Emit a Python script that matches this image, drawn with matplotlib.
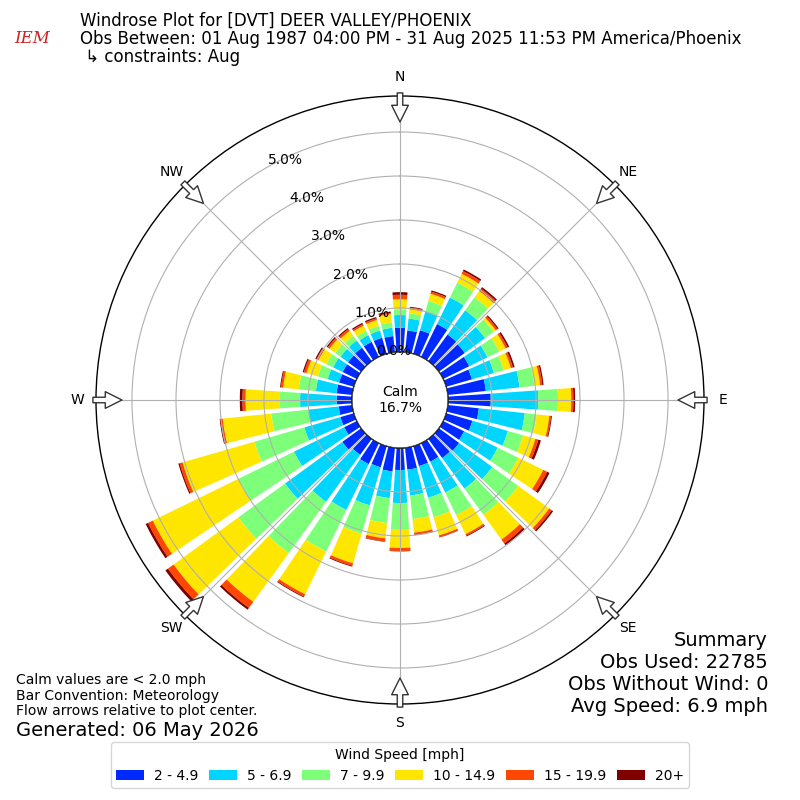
import numpy as np
import matplotlib
matplotlib.use("Agg")
import matplotlib.pyplot as plt
from matplotlib.patches import Circle

# ---------------- data ----------------
directions_deg = list(range(0, 360, 10))
speed_bins = ["2 - 4.9", "5 - 6.9", "7 - 9.9", "10 - 14.9", "15 - 19.9", "20+"]

# percent of observations per direction for each speed bin
pct_2_5 = [0.55, 0.50, 0.56, 0.83, 0.75, 0.73, 0.66, 0.61, 0.87, 0.97,
           0.71, 0.62, 0.53, 0.57, 0.54, 0.47, 0.47, 0.50, 0.50, 0.54,
           0.50, 0.53, 0.45, 0.53, 0.32, 0.32, 0.31, 0.35, 0.36, 0.35,
           0.36, 0.37, 0.38, 0.38, 0.38, 0.37]
pct_5_7 = [0.29, 0.27, 0.44, 0.67, 0.68, 0.57, 0.46, 0.52, 0.77, 1.08,
           1.05, 0.84, 0.85, 0.93, 0.86, 0.78, 0.75, 0.59, 0.75, 0.61,
           0.90, 1.16, 1.32, 1.61, 1.27, 0.85, 0.69, 0.83, 0.47, 0.27,
           0.24, 0.21, 0.20, 0.17, 0.17, 0.19]
pct_7_10 = [0.13, 0.12, 0.25, 0.38, 0.36, 0.24, 0.30, 0.23, 0.34, 0.45,
            0.27, 0.36, 0.52, 0.73, 0.73, 0.57, 0.46, 0.54, 0.61, 0.57,
            0.67, 1.05, 1.44, 1.31, 1.41, 1.18, 0.85, 0.46, 0.39, 0.23,
            0.17, 0.15, 0.13, 0.11, 0.11, 0.12]
pct_10_15 = [0.23, 0.09, 0.17, 0.22, 0.18, 0.06, 0.16, 0.17, 0.13, 0.30,
             0.29, 0.29, 0.63, 0.87, 0.70, 0.48, 0.43, 0.31, 0.41, 0.35,
             0.70, 1.08, 1.37, 1.82, 2.16, 1.70, 1.11, 0.78, 0.36, 0.27,
             0.20, 0.16, 0.14, 0.13, 0.14, 0.19]
pct_15_20 = [0.10, 0.04, 0.05, 0.07, 0.07, 0.05, 0.05, 0.05, 0.05, 0.05,
             0.04, 0.07, 0.10, 0.07, 0.11, 0.04, 0.04, 0.05, 0.07, 0.07,
             0.06, 0.06, 0.17, 0.16, 0.12, 0.07, 0.05, 0.07, 0.05, 0.06,
             0.05, 0.05, 0.05, 0.04, 0.04, 0.03]
pct_20p = [0.06, 0.02, 0.03, 0.04, 0.04, 0.03, 0.04, 0.04, 0.03, 0.04,
           0.02, 0.06, 0.06, 0.04, 0.05, 0.02, 0.01, 0.01, 0.01, 0.01,
           0.02, 0.02, 0.05, 0.07, 0.06, 0.03, 0.02, 0.06, 0.02, 0.03,
           0.03, 0.03, 0.03, 0.03, 0.03, 0.03]

calm_pct = 16.7
obs_used = 22785
obs_without_wind = 0
avg_speed = 6.9

compass_labels = ["N", "NE", "E", "SE", "S", "SW", "W", "NW"]
rticks = [0, 1, 2, 3, 4, 5]

# ---------------- plot ----------------
series = [pct_2_5, pct_5_7, pct_7_10, pct_10_15, pct_15_20, pct_20p]
colors = plt.cm.jet(np.linspace(0, 1, 7)[1:])

fig = plt.figure(figsize=(8, 8), dpi=100)
ax = fig.add_axes([0.12, 0.12, 0.76, 0.76], projection="polar")
ax.set_theta_zero_location("N")
ax.set_theta_direction(-1)

rmax = 5.818
hole = 1.091
ax.set_rorigin(-hole)
ax.set_rlim(0, rmax)

theta = np.deg2rad(np.array(directions_deg))
width = np.deg2rad(10) * 0.8
bottom = np.zeros(len(directions_deg))
handles = []
for vals, col, lab in zip(series, colors, speed_bins):
    v = np.array(vals)
    b = ax.bar(theta, v, width=width, bottom=bottom, color=col, label=lab,
               linewidth=0, zorder=1)
    handles.append(b)
    bottom = bottom + v

ax.set_axisbelow(False)
ax.grid(True, color="#b0b0b0", linewidth=0.8)
ax.set_rticks(rticks)
ax.set_yticklabels([f"{t:.1f}%" for t in rticks], fontsize=10)
ax.set_rlabel_position(330.5)
ax.set_xticks(np.deg2rad(np.arange(0, 360, 45)))
ax.set_xticklabels(compass_labels, fontsize=10)
ax.tick_params(axis="x", pad=3)
ax.spines["polar"].set_color("black")
ax.spines["polar"].set_linewidth(1.0)

# calm circle
calm = Circle((0.5, 0.5), hole / (rmax + hole) * 0.5, transform=ax.transAxes,
              facecolor="white", edgecolor="black", linewidth=1.0, zorder=5)
ax.add_patch(calm)
ax.text(0.5, 0.5, f"Calm\n{calm_pct:.1f}%", transform=ax.transAxes,
        ha="center", va="center", fontsize=10, zorder=6)

# flow arrows
r_tail = rmax + 0.07
r_tip = rmax - 0.59
for d in np.arange(0, 360, 45):
    t = np.deg2rad(d)
    ax.annotate("", xy=(t, r_tip), xytext=(t, r_tail),
                arrowprops=dict(arrowstyle="simple,head_length=1.0,head_width=1.0,tail_width=0.33",
                                fc="white", ec="#333333", lw=1.0,
                                mutation_scale=12, shrinkA=0, shrinkB=0),
                annotation_clip=False, zorder=7)

# titles
fig.text(0.1, 1 - 12 / 800,
         "Windrose Plot for [DVT] DEER VALLEY/PHOENIX\n"
         "Obs Between: 01 Aug 1987 04:00 PM - 31 Aug 2025 11:53 PM America/Phoenix\n"
         " \u21b3 constraints: Aug",
         ha="left", va="top", fontsize=12, linespacing=1.0)
fig.text(0.018, 1 - 47 / 800, "IEM", color="#cc2222", fontstyle="italic",
         family="DejaVu Serif", fontsize=12, ha="left", va="bottom")

fig.text(0.02, 1 - 673 / 800,
         "Calm values are < 2.0 mph\nBar Convention: Meteorology\n"
         "Flow arrows relative to plot center.",
         ha="left", va="top", fontsize=10, linespacing=1.15)
fig.text(0.02, 1 - 730 / 800, "Generated: 06 May 2026", ha="left",
         va="center", fontsize=14)

summary_lines = ["Summary", f"Obs Used: {obs_used}",
                 f"Obs Without Wind: {obs_without_wind}",
                 f"Avg Speed: {avg_speed:.1f} mph"]
summary_y = [640, 662, 685, 706]
for line, yp in zip(summary_lines, summary_y):
    fig.text(0.96, 1 - yp / 800, line, ha="right", va="center", fontsize=14)

fig.legend(handles, speed_bins, loc="lower center",
           bbox_to_anchor=(0.5, 0.006), ncol=6, title="Wind Speed [mph]",
           fontsize=10, title_fontsize=10, columnspacing=0.8,
           handletextpad=0.7)

fig.savefig("out.png", dpi=100)
